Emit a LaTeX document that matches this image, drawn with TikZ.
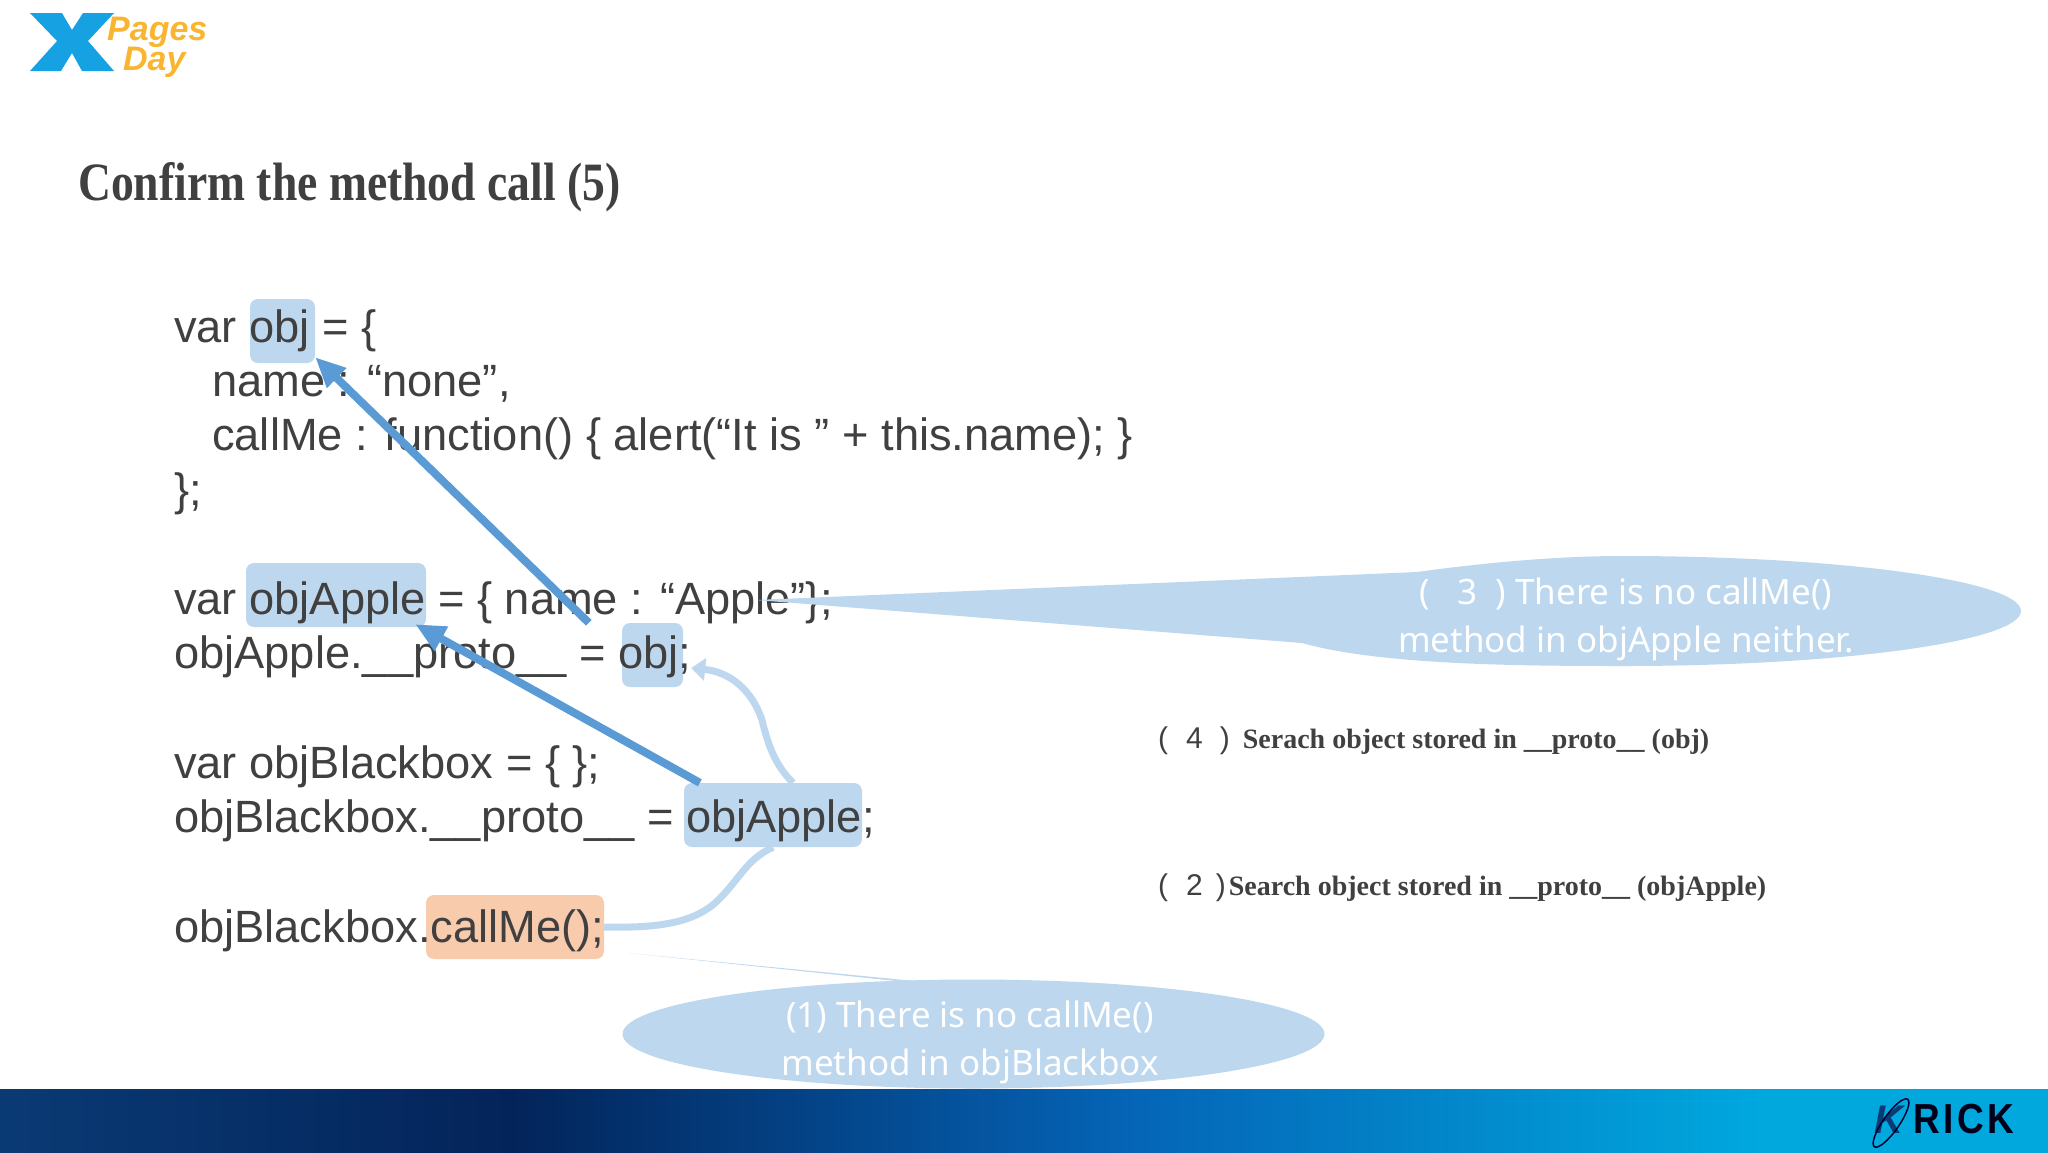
\documentclass[tikz,border=0pt]{standalone}
\usepackage{fontspec}
\setmainfont{Liberation Sans}
\newfontfamily\calloutfont{Noto Sans}
\newfontfamily\gothfont{Liberation Serif}
\usetikzlibrary{arrows.meta,shapes.geometric}
\definecolor{codegray}{HTML}{404040}
\definecolor{paleblue}{HTML}{BDD7EE}
\definecolor{midblue}{HTML}{5B9BD5}
\definecolor{paleorange}{HTML}{F8CBAD}
\definecolor{logoblue}{HTML}{16A1E3}
\definecolor{logoorange}{HTML}{F9B52F}
\definecolor{barA}{HTML}{0A3A74}
\definecolor{barB}{HTML}{03245A}
\definecolor{barC}{HTML}{0564B6}
\definecolor{barD}{HTML}{00A8DE}
\pgfdeclarehorizontalshading{barshade}{100bp}{
  color(0bp)=(barA); color(25bp)=(barA); color(37.5bp)=(barB); color(52.5bp)=(barC); color(68bp)=(barD); color(100bp)=(barD)}
\tikzset{
  codeline/.style={anchor=base west,inner sep=0pt,text=codegray,font=\fontsize{45.25}{54}\selectfont},
  hlbox/.style={fill=paleblue,rounded corners=8pt,inner sep=0pt,minimum height=64pt},
  callbox/.style={fill=paleorange,rounded corners=8pt,inner sep=0pt,minimum height=64pt},
  bigarrow/.style={draw=midblue,line width=8pt,-{Triangle[length=30pt,width=26pt]}},
  palelink/.style={draw=paleblue,line width=7pt},
  calloutlabel/.style={text=white,align=center,inner sep=0pt,font=\calloutfont\fontsize{35}{48}\selectfont},
  sidenote/.style={anchor=base west,inner sep=0pt,text=codegray,font=\fontsize{30}{36}\selectfont}
}
\begin{document}
\begin{tikzpicture}[x=1pt,y=-1pt]
\useasboundingbox (0,0) rectangle (2048,1152);
% logo
\fill[logoblue] (30,13)--(62,13)--(72,30)--(83,13)--(114,13)--(88,41)--(114,71)--(82,71)--(72,53)--(61,71)--(30,71)--(57,41)--cycle;
\node[anchor=base west,inner sep=0pt,text=logoorange,font=\bfseries\itshape\fontsize{34}{34}\selectfont] (logopages) at (107,40) {Pages};
\node[anchor=base west,inner sep=0pt,text=logoorange,font=\bfseries\itshape\fontsize{34}{34}\selectfont] (logoday) at (123,70) {Day};
% title
\node[anchor=base west,inner sep=0pt,text=codegray,font=\gothfont\bfseries\fontsize{54}{60}\selectfont,xscale=0.845] (title) at (78,200) {Confirm the method call (5)};
% highlights
\node[hlbox,minimum width=65pt] (objbox) at (282.5,331) {};
\node[hlbox,minimum width=180pt] (applebox) at (336,595) {};
\node[hlbox,minimum width=61pt] (objnext) at (652.5,655) {};
\node[hlbox,minimum width=178pt] (applenext) at (773,815) {};
\node[callbox,minimum width=178pt] (callbox) at (515,927) {};
% pale links
\draw[palelink,-{Triangle[length=14pt,width=22pt]}] ([xshift=20pt]applenext.north) .. controls (775,765) and (768,745) .. (762,720) .. controls (752,690) and (730,672) .. ([xshift=8pt,yshift=-13pt]objnext.east);
\draw[palelink] (callbox.east) .. controls (650,928) and (690,925) .. (715,903) .. controls (740,880) and (745,860) .. (applenext.south);
% code
\node[codeline] (l1) at (174,342) {var obj = \{};
\node[codeline] (l2) at (212,396) {name : “none”,};
\node[codeline] (l3) at (212,450) {callMe : function() \{ alert(“It is ” + this.name); \}};
\node[codeline] (l4) at (174,505) {\};};
\node[codeline] (l5) at (174,614) {var objApple = \{ name : “Apple”\};};
\node[codeline] (l6) at (174,668) {objApple.\_\_proto\_\_ = obj;};
\node[codeline] (l7) at (174,778) {var objBlackbox = \{ \};};
\node[codeline] (l8) at (174,832) {objBlackbox.\_\_proto\_\_ = objApple;};
\node[codeline] (l9) at (174,942) {objBlackbox.callMe();};
% proto arrows
\draw[bigarrow] ([xshift=-33pt]objnext.north west) -- ([yshift=6pt]objbox.south east);
\draw[bigarrow] ([xshift=16pt]applenext.north west) -- ([xshift=-11pt,yshift=3pt]applebox.south east);
% callouts
\fill[paleblue] (756,600) -- (1417,572) .. controls (1490,562) and (1560,556) .. (1623,556)
  .. controls (1843,556) and (2021,581) .. (2021,611) .. controls (2021,641) and (1843,666) .. (1623,666)
  .. controls (1520,666) and (1380,665) .. (1302,643) -- cycle;
\node[calloutlabel] (notethree) at (1626,619) {(\ \ \ 3\ \ ) There is no callMe()\\method in objApple neither.};
\node[ellipse,fill=paleblue,minimum width=702pt,minimum height=109pt,inner sep=0pt] (noteone) at (973.5,1034) {};
\coordinate (tipone) at (628,953);
\fill[paleblue] (tipone) -- (925,984) -- (945,984) -- cycle;
\node[calloutlabel] (noteonetext) at (970,1042) {(1) There is no callMe()\\method in objBlackbox};
% notes on the right
\node[sidenote] (notefour) at (1158,748) {(\hspace{18pt}4\hspace{17pt})\hspace{13pt}{\gothfont\bfseries\fontsize{28}{36}\selectfont Serach object stored in \_\_proto\_\_ (obj)}};
\node[sidenote] (notetwo) at (1158,895) {(\hspace{18pt}2\hspace{13pt})\hspace{3pt}{\gothfont\bfseries\fontsize{28}{36}\selectfont Search object stored in \_\_proto\_\_ (objApple)}};
% footer
\shade[shading=barshade] (0,1089) rectangle (2048,1152);
\node[anchor=base west,inner sep=0pt,text=black!90!blue,font=\bfseries\fontsize{42}{42}\selectfont,xscale=0.88] (krick) at (1913,1133) {R\hspace{4pt}I\hspace{4pt}C\hspace{4pt}K};
\node[anchor=base west,inner sep=0pt,text=barA,font=\bfseries\itshape\fontsize{40}{40}\selectfont] (krickk) at (1874,1133) {K};
\draw[black!80!blue,line width=1.5pt,rotate around={55:(1891,1123)}] (1891,1123) ellipse (29pt and 8pt);
\end{tikzpicture}
\end{document}
